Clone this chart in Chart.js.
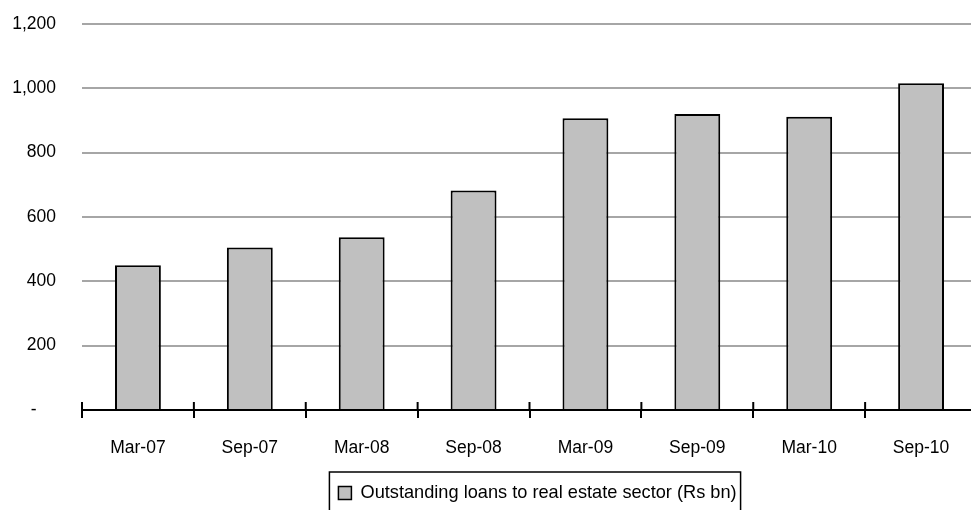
<!DOCTYPE html>
<html>
<head>
<meta charset="utf-8">
<script src="https://cdn.jsdelivr.net/npm/chart.js@4.4.1/dist/chart.umd.min.js"></script>
<style>
  html, body { margin: 0; padding: 0; background: #fff; width: 971px; height: 510px; overflow: hidden; }
  #wrap { position: relative; width: 985px; height: 522px; }
</style>
</head>
<body>
<div id="wrap"><canvas id="chart"></canvas></div>
<script>
// Half-yearly outstanding bank loans to the real estate sector
const periods = ['Mar-07', 'Sep-07', 'Mar-08', 'Sep-08', 'Mar-09', 'Sep-09', 'Mar-10', 'Sep-10'];
const loansRsBn = [450, 505, 537, 682, 907, 920, 912, 1016];
const seriesName = 'Outstanding loans to real estate sector (Rs bn)';
const yTicks = [0, 200, 400, 600, 800, 1000, 1200];

const FONT = "'Liberation Sans', Arial, sans-serif";
const LEGEND_SHIFT = 49;

// Category-boundary tick marks crossing the x axis line (upper half;
// the lower half comes from the axis grid ticks)
const crossTicks = {
  id: 'crossTicks',
  afterDraw(chart) {
    const x = chart.scales.x;
    const ctx = chart.ctx;
    const n = chart.data.labels.length;
    const y0 = chart.chartArea.bottom;
    ctx.save();
    ctx.strokeStyle = '#000';
    ctx.lineWidth = 2;
    for (let i = 0; i <= n; i++) {
      const px = x.left + (x.width * i) / n;
      ctx.beginPath();
      ctx.moveTo(px, y0 - 8);
      ctx.lineTo(px, y0);
      ctx.stroke();
    }
    ctx.restore();
  }
};

// Legend sits right of centre, inside a frame
const legendFrame = {
  id: 'legendFrame',
  afterUpdate(chart) {
    const lg = chart.legend;
    if (!lg) return;
    lg.left += LEGEND_SHIFT;
    lg.right += LEGEND_SHIFT;
    (lg.legendHitBoxes || []).forEach(h => { h.left += LEGEND_SHIFT; });
  },
  afterDraw(chart) {
    const lg = chart.legend;
    if (!lg || !lg.legendHitBoxes || !lg.legendHitBoxes.length) return;
    const hb = lg.legendHitBoxes[0];
    const ctx = chart.ctx;
    ctx.save();
    ctx.strokeStyle = '#000';
    ctx.lineWidth = 1.5;
    ctx.strokeRect(hb.left - 9, hb.top - 12, hb.width + 13, hb.height + 30);
    ctx.restore();
  }
};

new Chart(document.getElementById('chart'), {
  type: 'bar',
  data: {
    labels: periods,
    datasets: [{
      label: seriesName,
      data: loansRsBn,
      backgroundColor: '#c0c0c0',
      borderColor: '#000',
      borderWidth: 2,
      barPercentage: 0.41,
      categoryPercentage: 1.0
    }]
  },
  options: {
    responsive: true,
    maintainAspectRatio: false,
    animation: false,
    events: [],
    layout: { padding: { left: 0, top: 24, right: 8, bottom: 9.8 } },
    plugins: {
      tooltip: { enabled: false },
      legend: {
        position: 'bottom',
        labels: {
          color: '#000',
          font: { family: FONT, size: 18.2 },
          boxWidth: 13,
          boxHeight: 13,
          padding: 5,
          generateLabels(chart) {
            const ds = chart.data.datasets[0];
            return [{
              text: ds.label,
              fillStyle: ds.backgroundColor,
              strokeStyle: '#000',
              lineWidth: 1.5,
              datasetIndex: 0
            }];
          }
        }
      }
    },
    scales: {
      x: {
        grid: {
          display: true,
          offset: true,
          drawOnChartArea: false,
          drawTicks: true,
          tickLength: 8,
          color: '#000',
          lineWidth: 2
        },
        border: { display: true, color: '#000', width: 2 },
        ticks: {
          color: '#000',
          font: { family: FONT, size: 17.5 },
          padding: 20,
          maxRotation: 0,
          autoSkip: false
        }
      },
      y: {
        min: 0,
        max: 1200,
        afterFit(scale) {
          scale.width = 82;
          scale.paddingTop = 0;
          scale.paddingBottom = 0;
        },
        afterBuildTicks(scale) { scale.ticks = yTicks.map(v => ({ value: v })); },
        grid: { color: '#a6a6a6', lineWidth: 2, drawTicks: false },
        border: { display: false },
        ticks: {
          color: '#000',
          font: { family: FONT, size: 17.5 },
          padding: 26,
          callback(v) { return v === 0 ? '-    ' : v.toLocaleString('en-US'); }
        }
      }
    }
  },
  plugins: [crossTicks, legendFrame]
});
</script>
</body>
</html>
